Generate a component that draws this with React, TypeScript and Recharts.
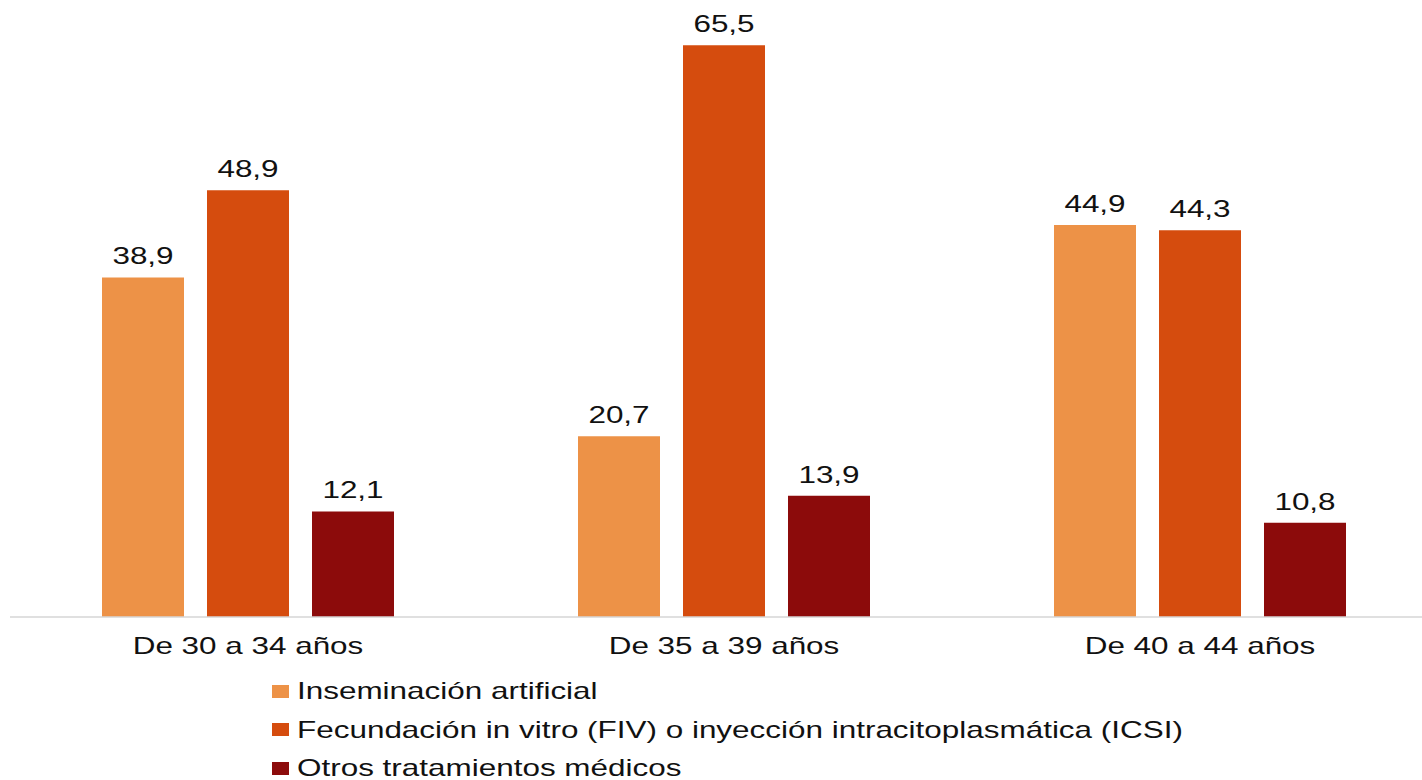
import React from 'react';
import { BarChart, Bar, XAxis, YAxis, LabelList, Legend } from 'recharts';

const categories = ['De 30 a 34 años', 'De 35 a 39 años', 'De 40 a 44 años'];
const inseminacion = [38.9, 20.7, 44.9];
const fivIcsi = [48.9, 65.5, 44.3];
const otros = [12.1, 13.9, 10.8];

const series = [
  { key: 'inseminacion', name: 'Inseminación artificial', color: '#ED9247' },
  { key: 'fiv', name: 'Fecundación in vitro (FIV) o inyección intracitoplasmática (ICSI)', color: '#D54C0E' },
  { key: 'otros', name: 'Otros tratamientos médicos', color: '#8C0B0B' },
];

const data = categories.map((name, i) => ({
  name,
  inseminacion: inseminacion[i],
  fiv: fivIcsi[i],
  otros: otros[i],
}));

const FONT = '"Liberation Sans", Arial, sans-serif';
const TEXT = '#111111';
// the original text is drawn horizontally stretched
const STRETCH = 1.31;

const fmt = (v: any) => Number(v).toFixed(1).replace('.', ',');

const CategoryTick = (props: any) => {
  const { x, y, payload } = props;
  return (
    <g transform={`translate(${x},${y}) scale(${STRETCH},1)`}>
      <text x={0} y={0} dy="0.71em" textAnchor="middle" fill={TEXT} fontSize={24} fontFamily={FONT}>
        {payload.value}
      </text>
    </g>
  );
};

const ValueLabel = (props: any) => {
  const { x, y, width, value } = props;
  return (
    <g transform={`translate(${Number(x) + Number(width) / 2},${Number(y) - 13}) scale(${STRETCH},1)`}>
      <text x={0} y={0} textAnchor="middle" fill={TEXT} fontSize={24} fontFamily={FONT}>
        {fmt(value)}
      </text>
    </g>
  );
};

const renderLegend = () => (
  <div style={{ fontFamily: FONT, fontSize: 24, color: TEXT }}>
    {series.map((s) => (
      <div key={s.key} style={{ display: 'flex', alignItems: 'center', height: 38.5 }}>
        <span style={{ display: 'inline-block', width: 17, height: 13, background: s.color, marginRight: 8 }} />
        <span
          style={{
            display: 'inline-block',
            whiteSpace: 'nowrap',
            transform: `scaleX(${STRETCH})`,
            transformOrigin: 'left center',
          }}
        >
          {s.name}
        </span>
      </div>
    ))}
  </div>
);

export default function App() {
  return (
    <div style={{ position: 'absolute', left: 0, top: 0, width: 1422, height: 780, overflow: 'hidden', background: '#fff' }}>
      <BarChart
        width={1440}
        height={780}
        data={data}
        margin={{ top: 6, right: 2, left: 10, bottom: 133 }}
        barCategoryGap={92}
        barGap={23}
      >
        <XAxis
          dataKey="name"
          axisLine={{ stroke: '#d6d6d6', strokeWidth: 1.5 }}
          tickLine={false}
          tickMargin={14}
          height={30}
          tick={<CategoryTick />}
        />
        <YAxis hide domain={[0, 70]} />
        <Legend
          layout="horizontal"
          verticalAlign="middle"
          align="center"
          content={renderLegend}
          wrapperStyle={{ position: 'absolute', left: 272, top: 672, width: 'auto', height: 'auto' }}
        />
        {series.map((s) => (
          <Bar key={s.key} dataKey={s.key} name={s.name} fill={s.color} isAnimationActive={false}>
            <LabelList dataKey={s.key} content={<ValueLabel />} />
          </Bar>
        ))}
      </BarChart>
    </div>
  );
}
